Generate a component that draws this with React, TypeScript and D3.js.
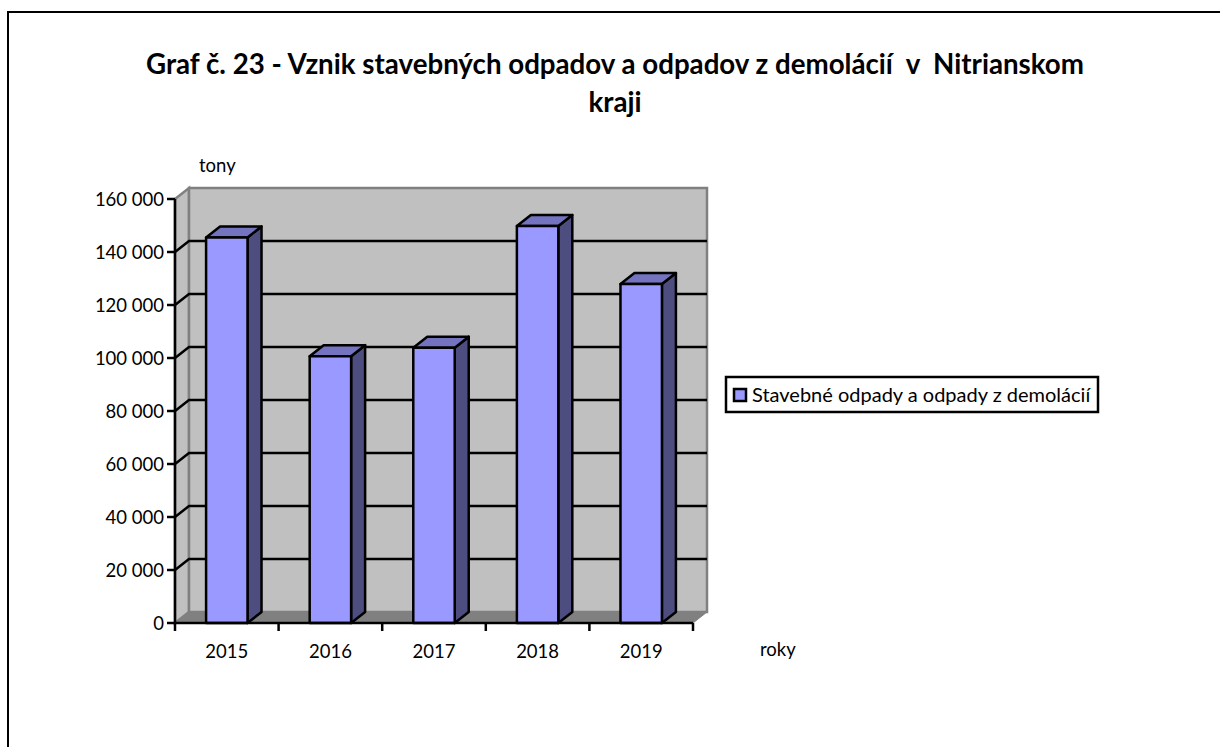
import React from 'react';
import * as d3 from 'd3';

const years = ['2015', '2016', '2017', '2018', '2019'];
const waste = [145500, 100700, 103900, 149800, 127900];
const yTicks = [0, 20000, 40000, 60000, 80000, 100000, 120000, 140000, 160000];
const seriesName = 'Stavebné odpady a odpady z demolácií';
const titleLines = ['Graf č. 23 - Vznik stavebných odpadov a odpadov z demolácií  v  Nitrianskom', 'kraji'];

const FONT = 'Lato, "Open Sans", sans-serif';
const left = 175, right = 693, top = 199, bottom = 623;
const dx = 14, dy = 11; // 3d depth offset

const fmt = (v: number) => String(v).replace(/\B(?=(\d{3})+$)/g, ' ');

export default function App() {
    const x = d3.scaleBand().domain(years).range([left, right]).paddingInner(0.6).paddingOuter(0.3);
    const y = d3.scaleLinear().domain([0, 160000]).range([bottom, top]);
    const step = x.step();
    const catTicks = d3.range(years.length + 1).map(i => left + i * step);

    return (
        <svg width={1220} height={747} style={{ position: 'absolute', left: 0, top: 0, background: '#fff' }} fontFamily={FONT}>
            <path d="M8 747V12H1220" fill="none" stroke="#000" strokeWidth={2} />

            {titleLines.map((t, i) => (
                <text key={i} x={615} y={74 + i * 38} textAnchor="middle" fontSize={27.7} fontWeight={700} xmlSpace="preserve">{t}</text>
            ))}

            {/* walls and floor */}
            <polygon points={`${left},${top} ${left + dx},${top - dy} ${left + dx},${bottom - dy} ${left},${bottom}`} fill="#c0c0c0" stroke="#808080" strokeWidth={2.5} />
            <rect x={left + dx} y={top - dy} width={right - left} height={bottom - top} fill="#c0c0c0" stroke="#808080" strokeWidth={2.5} />
            <polygon points={`${left},${bottom} ${left + dx},${bottom - dy} ${right + dx},${bottom - dy} ${right},${bottom}`} fill="#808080" stroke="#808080" strokeWidth={1} />

            {/* gridlines */}
            {yTicks.slice(1, -1).map(v => (
                <path key={v} d={`M${left},${y(v)}L${left + dx},${y(v) - dy}H${right + dx}`} fill="none" stroke="#000" strokeWidth={2.5} />
            ))}

            {/* bars */}
            {years.map((yr, i) => {
                const bx = x(yr)!, bw = x.bandwidth(), by = y(waste[i]);
                return (
                    <g key={yr} stroke="#000" strokeWidth={2.5} strokeLinejoin="round">
                        <polygon points={`${bx + bw},${by} ${bx + bw + dx},${by - dy} ${bx + bw + dx},${bottom - dy} ${bx + bw},${bottom}`} fill="#4d4d80" />
                        <polygon points={`${bx},${by} ${bx + dx},${by - dy} ${bx + bw + dx},${by - dy} ${bx + bw},${by}`} fill="#7373bf" />
                        <rect x={bx} y={by} width={bw} height={bottom - by} fill="#9999ff" />
                    </g>
                );
            })}

            {/* axes */}
            <path d={`M${left},${top}V${bottom}H${right}`} fill="none" stroke="#000" strokeWidth={2.5} />
            {yTicks.map(v => (
                <g key={v}>
                    <line x1={left - 8} x2={left} y1={y(v)} y2={y(v)} stroke="#000" strokeWidth={2.5} />
                    <text x={left - 11} y={y(v) + 7} textAnchor="end" fontSize={18.5}>{fmt(v)}</text>
                </g>
            ))}
            {catTicks.map(t => (
                <line key={t} x1={t} x2={t} y1={bottom} y2={bottom + 8} stroke="#000" strokeWidth={2.5} />
            ))}
            {years.map(yr => (
                <text key={yr} x={x(yr)! + x.bandwidth() / 2} y={658} textAnchor="middle" fontSize={18.5}>{yr}</text>
            ))}

            <text x={199} y={172} fontSize={18.5}>tony</text>
            <text x={760} y={656} fontSize={18.5}>roky</text>

            {/* legend */}
            <rect x={726} y={377} width={372} height={35} fill="#fff" stroke="#000" strokeWidth={2.5} />
            <rect x={734} y={389} width={12} height={12} fill="#9999ff" stroke="#000" strokeWidth={2.5} />
            <text x={752} y={402} fontSize={20}>{seriesName}</text>
        </svg>
    );
}
